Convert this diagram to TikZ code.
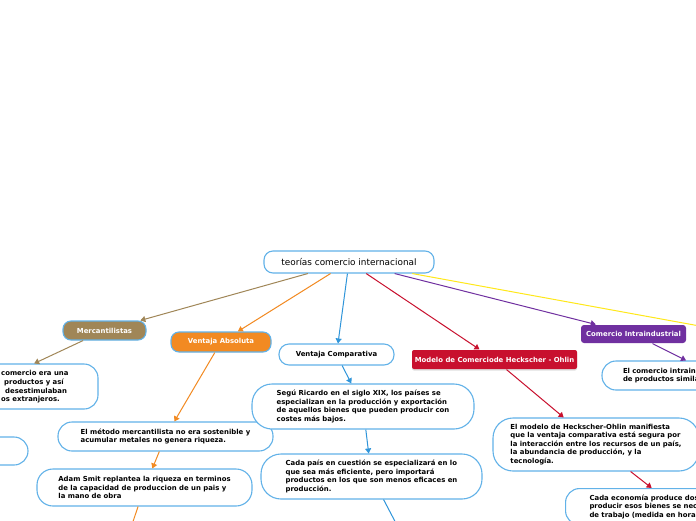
\documentclass[tikz,border=0pt]{standalone}
\usepackage{fontspec}
\setmainfont{DejaVu Sans}
\usepackage{xcolor}
\usepackage{tikz}
\usetikzlibrary{arrows.meta,shadows}
\definecolor{cEdge}{HTML}{62B2E8}
\definecolor{cMerc}{HTML}{A08657}
\definecolor{cAbs}{HTML}{F28A22}
\definecolor{cComp}{HTML}{2F95DA}
\definecolor{cHeck}{HTML}{C8102E}
\definecolor{cIntra}{HTML}{7030A0}
\definecolor{cGold}{HTML}{FFE81A}
\newcommand{\bodyfont}{\fontsize{6.9}{8.6}\selectfont\bfseries}

\begin{document}
\begin{tikzpicture}[x=1pt,y=-1pt,
  topic/.style={draw=cEdge,line width=1.1pt,fill=white,rounded corners=9pt,
    font=\fontsize{8.9}{10}\selectfont,inner sep=0pt},
  branch/.style={rounded corners=8pt,line width=1.1pt,inner sep=0pt,font=\bodyfont},
  leaf/.style={draw=cEdge,line width=1.1pt,fill=white,rounded corners=14pt,
    align=left,inner sep=0pt,font=\bodyfont},
  link/.style={line width=1pt,-{Triangle[length=5pt,width=6pt]}}]

  \useasboundingbox (0,0) rectangle (696,520);
  \fill[white] (0,0) rectangle (696,520);
  \clip (0,0) rectangle (696,520);

  \node[topic,minimum width=170pt,minimum height=22pt] (root) at (349,262)
    {teorías comercio internacional};

  \node[branch,draw=cEdge,fill=cMerc,text=white,minimum width=83pt,minimum height=19pt]
    (merc) at (104.5,330.5) {Mercantilistas};
  \node[branch,draw=cEdge,fill=cAbs,text=white,minimum width=100pt,minimum height=20pt]
    (absol) at (221,342) {Ventaja Absoluta};
  \node[branch,draw=cEdge,fill=white,rounded corners=10pt,minimum width=115pt,minimum height=21pt]
    (compar) at (336.5,354.5) {Ventaja Comparativa};
  \node[branch,fill=cHeck,text=white,rounded corners=2pt,minimum width=165pt,minimum height=19pt,
    drop shadow={shadow xshift=0pt,shadow yshift=-1.5pt,fill=black!25}]
    (hecks) at (494.5,359.5) {Modelo de Comerciode Heckscher - Ohlin};
  \node[branch,fill=cIntra,text=white,rounded corners=3pt,minimum width=105pt,minimum height=18pt]
    (intra) at (633.5,334) {Comercio Intraindustrial};

  \node[leaf,minimum width=226pt,minimum height=45pt] (mercA) at (-15,386.5) {};
  \node[font=\bodyfont,align=left,anchor=west,inner sep=0pt] (mercT) at (1,387)
    {comercio era una\\\hspace*{3pt}productos y así\\\hspace*{4pt}desestimulaban\\os extranjeros.};
  \node[leaf,minimum width=208pt,minimum height=28pt] (mercB) at (-76,451) {};

  \node[leaf,minimum width=215pt,minimum height=29pt] (metodo) at (165.5,436.5)
    {El método mercantilista no era sostenible y\\acumular metales no genera riqueza.};
  \node[leaf,minimum width=215pt,minimum height=37pt,rounded corners=16pt] (smith) at (144.5,487.5)
    {Adam Smit replantea la riqueza en terminos\\de la capacidad de produccion de un pais y\\la mano de obra};

  \node[leaf,minimum width=222pt,minimum height=45pt,rounded corners=20pt] (ricardo) at (363,406.5)
    {Segú Ricardo en el siglo XIX, los países se\\especializan en la producción y exportación\\de aquellos bienes que pueden producir con\\costes más bajos.};
  \node[leaf,minimum width=221pt,minimum height=45pt,rounded corners=20pt] (pais) at (371.5,476.5)
    {Cada país en cuestión se especializará en lo\\que sea más eficiente, pero importará\\productos en los que son menos eficaces en\\producción.};

  \node[leaf,minimum width=206pt,minimum height=53pt,rounded corners=20pt] (hoModel) at (596,444.5)
    {El modelo de Heckscher-Ohlin manifiesta\\que la ventaja comparativa está segura por\\la interacción entre los recursos de un país,\\la abundancia de producción, y la\\tecnología.};
  \node[leaf,text width=172pt,inner xsep=24pt,inner ysep=6pt,anchor=north west] (hoEcon) at (565,488)
    {Cada economía produce dos\\producir esos bienes se nec\\de trabajo (medida en hora};

  \node[leaf,text width=186pt,inner xsep=21pt,minimum height=29pt] (intraA) at (716,375.5)
    {El comercio intrain\\de productos simila};

  \coordinate (goldEnd) at (760,337);
  \coordinate (smithEnd) at (120,560);
  \coordinate (paisEnd) at (410,550);

  \draw[link,cMerc] (root) -- (merc);
  \draw[link,cAbs] (root) -- (absol);
  \draw[link,cComp] (root) -- (compar);
  \draw[link,cHeck] (root) -- (hecks);
  \draw[link,cIntra] (root) -- (intra);
  \draw[link,cGold] (root) -- (goldEnd);

  \draw[link,cMerc] (merc) -- (mercA);
  \draw[link,cAbs] (absol) -- (metodo);
  \draw[link,cAbs] (metodo) -- (smith);
  \draw[link,cAbs] (smith) -- (smithEnd);
  \draw[link,cComp] (compar) -- (ricardo);
  \draw[link,cComp] (ricardo) -- (pais);
  \draw[link,cComp] (pais) -- (paisEnd);
  \draw[link,cHeck] (hecks) -- (hoModel);
  \draw[link,cHeck] (hoModel) -- (hoEcon);
  \draw[link,cIntra] (intra) -- (intraA);
\end{tikzpicture}
\end{document}
